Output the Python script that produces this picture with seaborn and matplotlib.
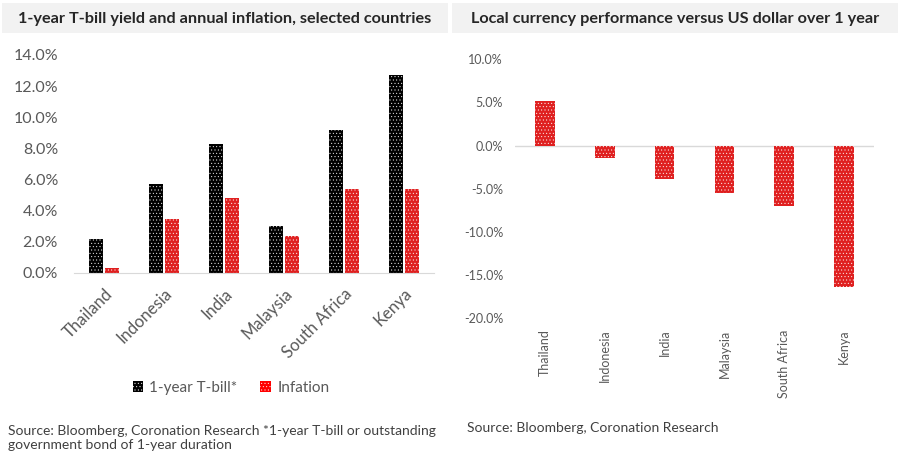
import seaborn as sns
import numpy as np
import pandas as pd
import matplotlib.pyplot as plt
from matplotlib.patches import Rectangle, Patch

countries = ['Thailand', 'Indonesia', 'India', 'Malaysia', 'South Africa', 'Kenya']
tbill = [2.2, 5.7, 8.3, 3.0, 9.2, 12.7]
inflation = [0.3, 3.5, 4.8, 2.4, 5.4, 5.4]
fx_change = [5.2, -1.4, -3.9, -5.5, -7.0, -16.4]
series_names = ['1-year T-bill*', 'Infation']

left_ticks = [0, 2, 4, 6, 8, 10, 12, 14]
right_ticks = [10, 5, 0, -5, -10, -15, -20]

sns.set_style('white')
plt.rcParams['font.family'] = ['Lato', 'DejaVu Sans']
plt.rcParams['hatch.color'] = 'white'
plt.rcParams['hatch.linewidth'] = 0.3

grey_txt = '#595959'
dots = '.....'

df = pd.DataFrame({
    'country': countries * 2,
    'value': tbill + inflation,
    'series': [series_names[0]] * 6 + [series_names[1]] * 6,
})

fig = plt.figure(figsize=(9, 4.72), dpi=100)

# title bands
for x0, title in [(2, '1-year T-bill yield and annual inflation, selected countries'),
                  (452, 'Local currency performance versus US dollar over 1 year')]:
    fig.patches.append(Rectangle((x0 / 900, 1 - 33 / 472), 446 / 900, 30 / 472,
                                 transform=fig.transFigure, facecolor='#f2f2f2',
                                 edgecolor='none', zorder=0))
    fig.text((x0 + 223) / 900, 1 - 19 / 472, title, ha='center', va='center',
             fontsize=11.7, fontweight='bold', color='#262626')

# left chart
ax1 = fig.add_axes([74 / 900, 1 - 273 / 472, 360 / 900, 218 / 472])
sns.barplot(data=df, x='country', y='value', hue='series', palette=['black', 'red'],
            width=0.52, gap=0.12, ax=ax1, legend=False)
for p in ax1.patches:
    p.set_hatch(dots)
    p.set_edgecolor('white')
    p.set_linewidth(0)
ax1.set_ylim(0, 14)
ax1.set_yticks(left_ticks)
ax1.set_yticklabels([f'{v:.1f}%' for v in left_ticks])
ax1.set_xlabel('')
ax1.set_ylabel('')
ax1.tick_params(axis='y', length=0, labelsize=11.5, labelcolor=grey_txt, pad=11.5)
ax1.tick_params(axis='x', length=0, labelsize=12, labelcolor=grey_txt, pad=9)
plt.setp(ax1.get_xticklabels(), rotation=45, ha='right', rotation_mode='anchor')
for s in ['top', 'right', 'left']:
    ax1.spines[s].set_visible(False)
ax1.spines['bottom'].set_color('#d9d9d9')

handles = [Patch(facecolor=c, edgecolor='white', linewidth=0, hatch=dots) for c in ['black', 'red']]
fig.legend(handles, series_names, loc='center', bbox_to_anchor=(231 / 900, 1 - 388 / 472),
           ncol=2, frameon=False, fontsize=11, labelcolor=grey_txt,
           handlelength=0.7, handleheight=0.7, handletextpad=0.4, columnspacing=1.5)

fig.text(8 / 900, 1 - 438 / 472,
         'Source: Bloomberg, Coronation Research *1-year T-bill or outstanding\ngovernment bond of 1-year duration',
         ha='left', va='center', fontsize=10, color='#404040', linespacing=1.15)

# right chart
ax2 = fig.add_axes([515 / 900, 1 - 318.3 / 472, 359 / 900, 259 / 472])
sns.barplot(x=countries, y=fx_change, color='red', width=0.33, ax=ax2)
for p in ax2.patches:
    p.set_hatch(dots)
    p.set_edgecolor('white')
    p.set_linewidth(0)
ax2.axhline(0, color='#d9d9d9', lw=1, zorder=0)
ax2.set_ylim(-20, 10)
ax2.set_yticks(right_ticks)
ax2.set_yticklabels([f'{v:.1f}%' for v in right_ticks])
ax2.tick_params(axis='y', length=0, labelsize=9, labelcolor=grey_txt, pad=8.6)
ax2.tick_params(axis='x', length=0, labelsize=9, labelcolor=grey_txt, pad=8)
plt.setp(ax2.get_xticklabels(), rotation=90)
for s in ['top', 'right', 'left', 'bottom']:
    ax2.spines[s].set_visible(False)

fig.text(467 / 900, 1 - 428 / 472, 'Source: Bloomberg, Coronation Research',
         ha='left', va='center', fontsize=10, color='#404040')

fig.savefig('out.png', dpi=100)
